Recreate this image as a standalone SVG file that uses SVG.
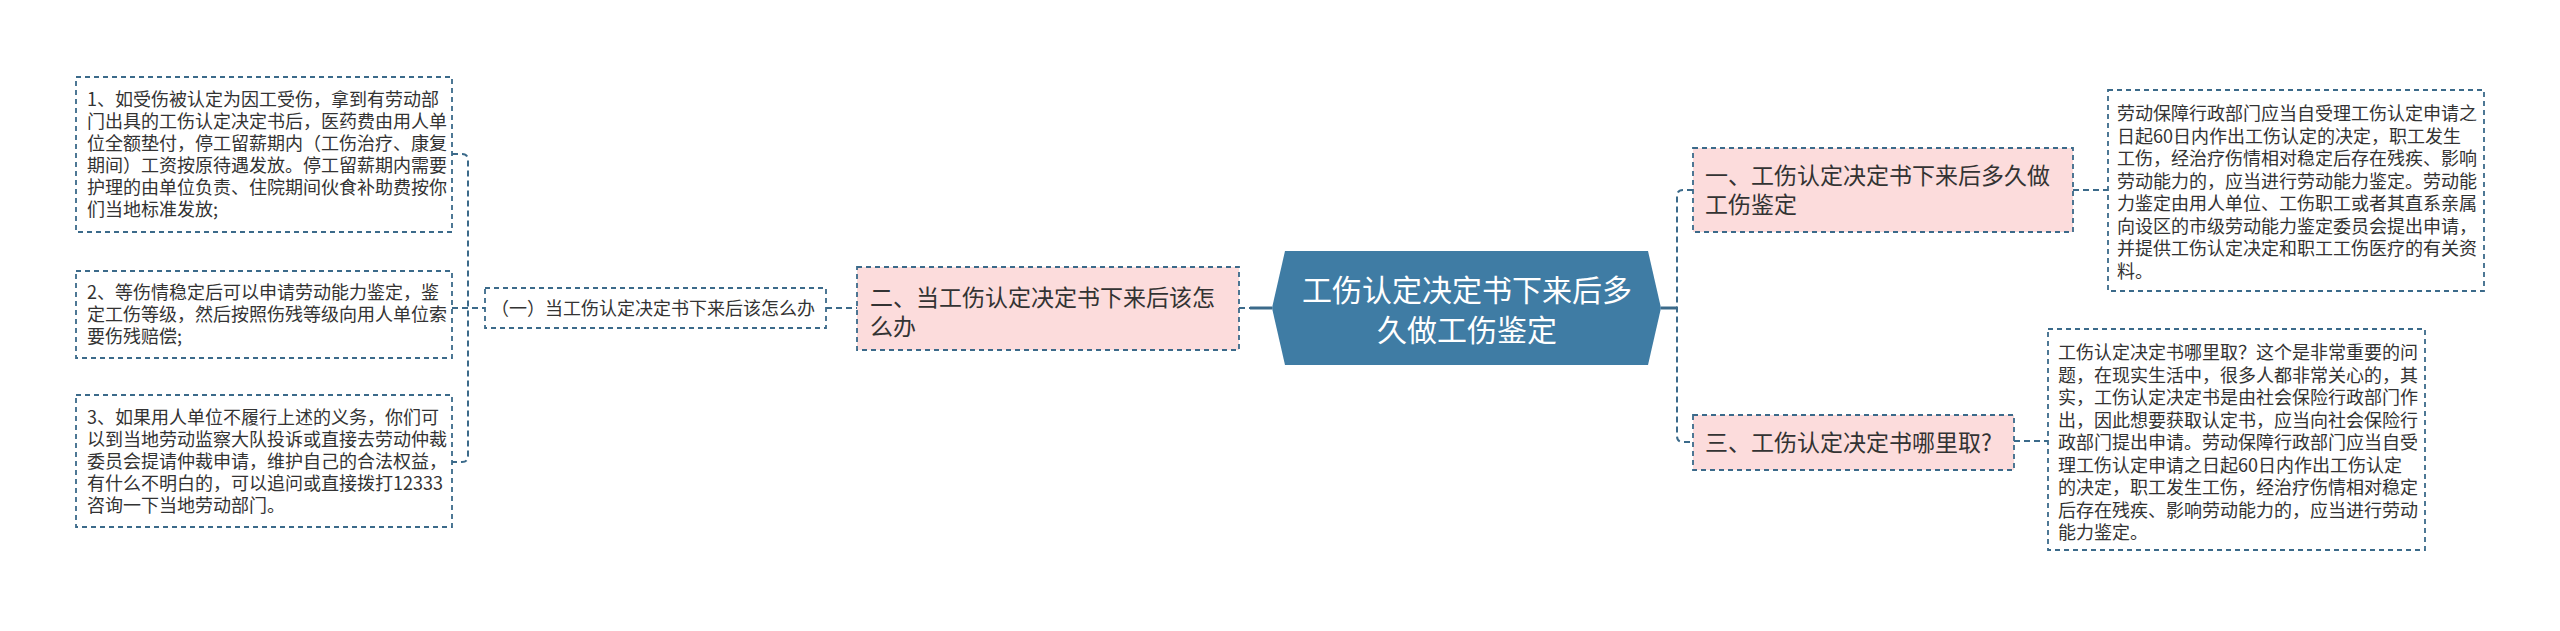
<svg xmlns="http://www.w3.org/2000/svg" width="2560" height="631" viewBox="0 0 2560 631">
<style>
.bg{fill:#ffffff}
.box{fill:#ffffff;stroke:#3b6a8a;stroke-width:1.8;stroke-dasharray:5 4}
.pink{fill:#fcdcdc;stroke:#3b6a8a;stroke-width:1.8;stroke-dasharray:5 4}
.hex{fill:#3f7ca4}
.t{font-family:"Noto Sans CJK SC","Noto Sans",sans-serif;font-size:18px;fill:#333333}
.tp{font-family:"Noto Sans CJK SC","Noto Sans",sans-serif;font-size:23px;fill:#333333}
.th{font-family:"Noto Sans CJK SC","Noto Sans",sans-serif;font-size:30px;fill:#ffffff}
.c{fill:none;stroke:#3b6a8a;stroke-width:2;stroke-dasharray:6 4}
.cs{fill:none;stroke:#3b6a8a;stroke-width:3}
</style>
<rect class="bg" x="0" y="0" width="2560" height="631"/>
<g id="connectors">
<path class="c" d="M452,154 H462 Q468,154 468,160 V456 Q468,462 462,462 H452"/>
<path class="c" d="M452,308 H485"/>
<path class="c" d="M826,308 H857"/>
<path class="c" d="M1239,308 H1252"/>
<path class="cs" d="M1250,308 H1272"/>
<path class="cs" d="M1661,308 H1677"/>
<path class="c" d="M1693,190 H1683 Q1677,190 1677,196 V436 Q1677,442 1683,442 H1693"/>
<path class="c" d="M2073,190 H2108"/>
<path class="c" d="M2014,441 H2048"/>
</g>
<g id="center">
<polygon class="hex" points="1285,251 1648,251 1661,308 1648,365 1285,365 1272,308"/>
<text class="th" x="1467" y="301" text-anchor="middle">工伤认定决定书下来后多</text>
<text class="th" x="1467" y="341" text-anchor="middle">久做工伤鉴定</text>
</g>
<g id="node-er">
<rect class="pink" x="857" y="267" width="382" height="83"/>
<text class="tp" x="870" y="306">二、当工伤认定决定书下来后该怎</text>
<text class="tp" x="870" y="335">么办</text>
</g>
<g id="node-yi-sub">
<rect class="box" x="485" y="288" width="341" height="40"/>
<text class="t" x="491" y="314.5">（一）当工伤认定决定书下来后该怎么办</text>
</g>
<g id="leaf-1">
<rect class="box" x="76" y="77" width="376" height="155"/>
<text class="t" x="87" y="106">1、如受伤被认定为因工受伤，拿到有劳动部</text>
<text class="t" x="87" y="128">门出具的工伤认定决定书后，医药费由用人单</text>
<text class="t" x="87" y="150">位全额垫付，停工留薪期内（工伤治疗、康复</text>
<text class="t" x="87" y="172">期间）工资按原待遇发放。停工留薪期内需要</text>
<text class="t" x="87" y="194">护理的由单位负责、住院期间伙食补助费按你</text>
<text class="t" x="87" y="216">们当地标准发放;</text>
</g>
<g id="leaf-2">
<rect class="box" x="76" y="271" width="376" height="87"/>
<text class="t" x="87" y="299">2、等伤情稳定后可以申请劳动能力鉴定，鉴</text>
<text class="t" x="87" y="321">定工伤等级，然后按照伤残等级向用人单位索</text>
<text class="t" x="87" y="343">要伤残赔偿;</text>
</g>
<g id="leaf-3">
<rect class="box" x="76" y="395" width="376" height="132"/>
<text class="t" x="87" y="424">3、如果用人单位不履行上述的义务，你们可</text>
<text class="t" x="87" y="446">以到当地劳动监察大队投诉或直接去劳动仲裁</text>
<text class="t" x="87" y="468">委员会提请仲裁申请，维护自己的合法权益，</text>
<text class="t" x="87" y="490">有什么不明白的，可以追问或直接拨打12333</text>
<text class="t" x="87" y="512">咨询一下当地劳动部门。</text>
</g>
<g id="node-yi">
<rect class="pink" x="1693" y="148" width="380" height="84"/>
<text class="tp" x="1705" y="184">一、工伤认定决定书下来后多久做</text>
<text class="tp" x="1705" y="213">工伤鉴定</text>
</g>
<g id="node-san">
<rect class="pink" x="1693" y="415" width="321" height="55"/>
<text class="tp" x="1705" y="451">三、工伤认定决定书哪里取?</text>
</g>
<g id="leaf-yi">
<rect class="box" x="2108" y="90" width="376" height="201"/>
<text class="t" x="2117" y="120">劳动保障行政部门应当自受理工伤认定申请之</text>
<text class="t" x="2117" y="142.5">日起60日内作出工伤认定的决定，职工发生</text>
<text class="t" x="2117" y="165">工伤，经治疗伤情相对稳定后存在残疾、影响</text>
<text class="t" x="2117" y="187.5">劳动能力的，应当进行劳动能力鉴定。劳动能</text>
<text class="t" x="2117" y="210">力鉴定由用人单位、工伤职工或者其直系亲属</text>
<text class="t" x="2117" y="232.5">向设区的市级劳动能力鉴定委员会提出申请，</text>
<text class="t" x="2117" y="255">并提供工伤认定决定和职工工伤医疗的有关资</text>
<text class="t" x="2117" y="277.5">料。</text>
</g>
<g id="leaf-san">
<rect class="box" x="2048" y="329" width="377" height="221"/>
<text class="t" x="2058" y="359">工伤认定决定书哪里取？这个是非常重要的问</text>
<text class="t" x="2058" y="381.5">题，在现实生活中，很多人都非常关心的，其</text>
<text class="t" x="2058" y="404">实，工伤认定决定书是由社会保险行政部门作</text>
<text class="t" x="2058" y="426.5">出，因此想要获取认定书，应当向社会保险行</text>
<text class="t" x="2058" y="449">政部门提出申请。劳动保障行政部门应当自受</text>
<text class="t" x="2058" y="471.5">理工伤认定申请之日起60日内作出工伤认定</text>
<text class="t" x="2058" y="494">的决定，职工发生工伤，经治疗伤情相对稳定</text>
<text class="t" x="2058" y="516.5">后存在残疾、影响劳动能力的，应当进行劳动</text>
<text class="t" x="2058" y="539">能力鉴定。</text>
</g>
</svg>
